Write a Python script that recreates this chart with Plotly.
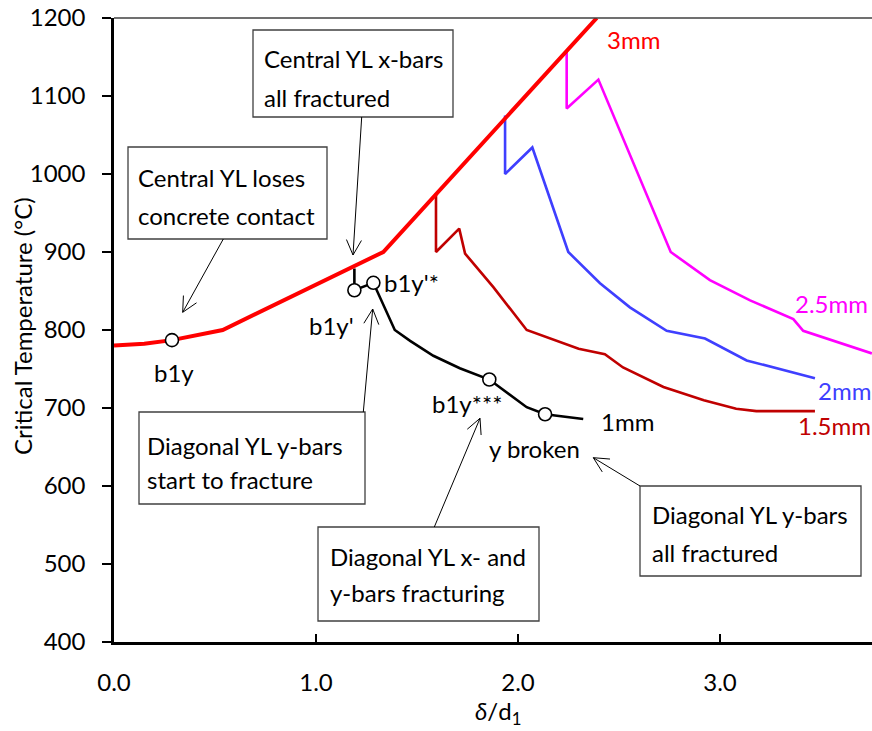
import math
import plotly.graph_objects as go

# ---------------- data ----------------
x_3mm = [0.0, 0.15, 0.287, 0.538, 1.333, 2.39]
t_3mm = [780, 782.5, 787, 800, 900, 1200]

x_25mm = [2.241, 2.241, 2.398, 2.756, 2.95, 3.149, 3.363, 3.412, 3.752]
t_25mm = [1158, 1084, 1121, 900, 864, 838, 814, 799, 770]

x_2mm = [1.936, 1.936, 2.071, 2.249, 2.406, 2.554, 2.736, 2.926, 3.132, 3.47]
t_2mm = [1075, 1000, 1034, 900, 860, 829, 799, 789, 761, 738]

x_15mm = [1.594, 1.594, 1.709, 1.738, 1.878, 2.043, 2.30, 2.43, 2.52, 2.72, 2.92, 3.08, 3.18, 3.47]
t_15mm = [975, 900, 930, 898, 855, 800, 776, 769, 752, 727, 710, 699, 696, 696]

x_1mm = [1.19, 1.19, 1.284, 1.39, 1.466, 1.581, 1.712, 1.858, 2.043, 2.134, 2.323]
t_1mm = [879, 851, 860.5, 800, 786, 767, 751, 736.5, 701, 692, 686]

pt_x = [0.287, 1.19, 1.284, 1.858, 2.134]
pt_t = [787, 851, 860.5, 736.5, 692]
pt_labels = ["b1y", "b1y'", "b1y'*", "b1y***", "y broken"]

series_names = ["3mm", "2.5mm", "2mm", "1.5mm", "1mm"]
x_ticks = [0, 1, 2, 3]
x_ticktext = ["0.0", "1.0", "2.0", "3.0"]

# ---------------- layout geometry ----------------
W, H = 872, 731
L, T, PW, PH = 114, 18, 758, 624
XMAX = 3.7525
FONT = "Lato"
FS = 24

def dx(px):
    return (px - L) / PW * XMAX

def dy(py):
    return 1200 - (py - T) / PH * 800

def px_(px):
    return (px - L) / PW

def py_(py):
    return (T + PH - py) / PH

fig = go.Figure()

colors = ["#FF0000", "#FF00FF", "#3F3FFF", "#C00000", "#000000"]
widths = [4, 2.6, 2.6, 2.6, 2.6]
xs = [x_3mm, x_25mm, x_2mm, x_15mm, x_1mm]
ts = [t_3mm, t_25mm, t_2mm, t_15mm, t_1mm]
order = [4, 3, 2, 1, 0]
for i in order:
    fig.add_trace(go.Scatter(x=xs[i], y=ts[i], mode="lines", name=series_names[i],
                             line=dict(color=colors[i], width=widths[i]),
                             showlegend=False, hoverinfo="skip"))

fig.add_trace(go.Scatter(x=pt_x, y=pt_t, mode="markers", showlegend=False,
                         marker=dict(size=13, color="white",
                                     line=dict(color="black", width=1.6))))

annotations = []
shapes = []

def text(px, py, s, color="black", anchor="center"):
    annotations.append(dict(x=dx(px), y=dy(py), xref="x", yref="y", text=s,
                            showarrow=False, xanchor=anchor, yanchor="middle",
                            font=dict(family=FONT, size=FS, color=color)))

# series labels
text(633, 39, series_names[0], colors[0])
text(831, 303, series_names[1], colors[1])
text(844, 390, series_names[2], colors[2])
text(834, 425, series_names[3], colors[3])
text(627, 421, series_names[4], colors[4])

# point labels
label_pos = [(174, 372), (331, 325), (411, 282), (467, 403), (534, 448)]
for (lx, ly), s in zip(label_pos, pt_labels):
    text(lx, ly, s)

# boxes
boxes = [
    ((253, 30, 453, 117), 262, [(58, "Central YL x-bars"), (97, "all fractured")]),
    ((128, 147, 327, 239), 136, [(177, "Central YL loses"), (215, "concrete contact")]),
    ((139, 412, 365, 504), 145, [(445, "Diagonal YL y-bars"), (479, "start to fracture")]),
    ((318, 527, 539, 621), 328, [(556, "Diagonal YL x- and"), (592, "y-bars fracturing")]),
    ((640, 486, 861, 576), 650, [(514, "Diagonal YL y-bars"), (552, "all fractured")]),
]
for (x0, y0, x1, y1), tx, lines in boxes:
    shapes.append(dict(type="rect", xref="x", yref="y", x0=dx(x0), x1=dx(x1),
                       y0=dy(y0), y1=dy(y1), fillcolor="white",
                       line=dict(color="#404040", width=1.3), layer="above"))
    for ly, s in lines:
        text(tx, ly, s, anchor="left")

# arrows (tail -> tip in pixels), open V heads
arrows = [((361.7, 117), (353, 255)),
          ((223.3, 239), (182.7, 312.3)),
          ((363.3, 412), (372.7, 309)),
          ((434.3, 527), (480, 418.3)),
          ((640, 486), (593.3, 457.7))]
HL, HW = 15, 7.5
for (ax, ay), (bx, by) in arrows:
    shapes.append(dict(type="line", xref="x", yref="y", x0=dx(ax), y0=dy(ay),
                       x1=dx(bx), y1=dy(by), line=dict(color="black", width=1)))
    vx, vy = bx - ax, by - ay
    n = math.hypot(vx, vy)
    ux, uy = vx / n, vy / n
    nx, ny = -uy, ux
    for sgn in (1, -1):
        hx = bx - HL * ux + sgn * HW * nx
        hy = by - HL * uy + sgn * HW * ny
        shapes.append(dict(type="line", xref="x", yref="y", x0=dx(hx), y0=dy(hy),
                           x1=dx(bx), y1=dy(by), line=dict(color="black", width=1)))

# top border
shapes.append(dict(type="line", xref="paper", yref="paper", x0=0, x1=1, y0=1, y1=1,
                   line=dict(color="#404040", width=1.5)))

# axis titles
annotations.append(dict(x=px_(22), y=py_(326), xref="paper", yref="paper",
                        text="Critical Temperature (°C)", textangle=-90, showarrow=False,
                        xanchor="center", yanchor="middle",
                        font=dict(family=FONT, size=FS, color="black")))
annotations.append(dict(x=px_(498), y=py_(712), xref="paper", yref="paper",
                        text="<i>δ</i>/d<sub>1</sub>", showarrow=False,
                        xanchor="center", yanchor="middle",
                        font=dict(family=FONT, size=FS, color="black")))

fig.update_layout(
    width=W, height=H,
    margin=dict(l=L, r=W - L - PW, t=T, b=H - T - PH, pad=0),
    plot_bgcolor="white", paper_bgcolor="white",
    font=dict(family=FONT, size=FS, color="black"),
    annotations=annotations, shapes=shapes,
    xaxis=dict(range=[0, XMAX], tickvals=x_ticks, ticktext=x_ticktext,
               ticks="inside", ticklen=8, tickwidth=2, tickcolor="black",
               showline=True, linewidth=2.5, linecolor="black",
               showgrid=False, zeroline=False, ticklabelstandoff=17,
               tickfont=dict(family=FONT, size=FS, color="black")),
    yaxis=dict(range=[400, 1200], dtick=100, tick0=400,
               ticks="outside", ticklen=9, tickwidth=2, tickcolor="black",
               showline=True, linewidth=2.5, linecolor="black",
               showgrid=False, zeroline=False, ticklabelstandoff=12,
               tickfont=dict(family=FONT, size=FS, color="black")),
)

fig.write_html("out.html")
